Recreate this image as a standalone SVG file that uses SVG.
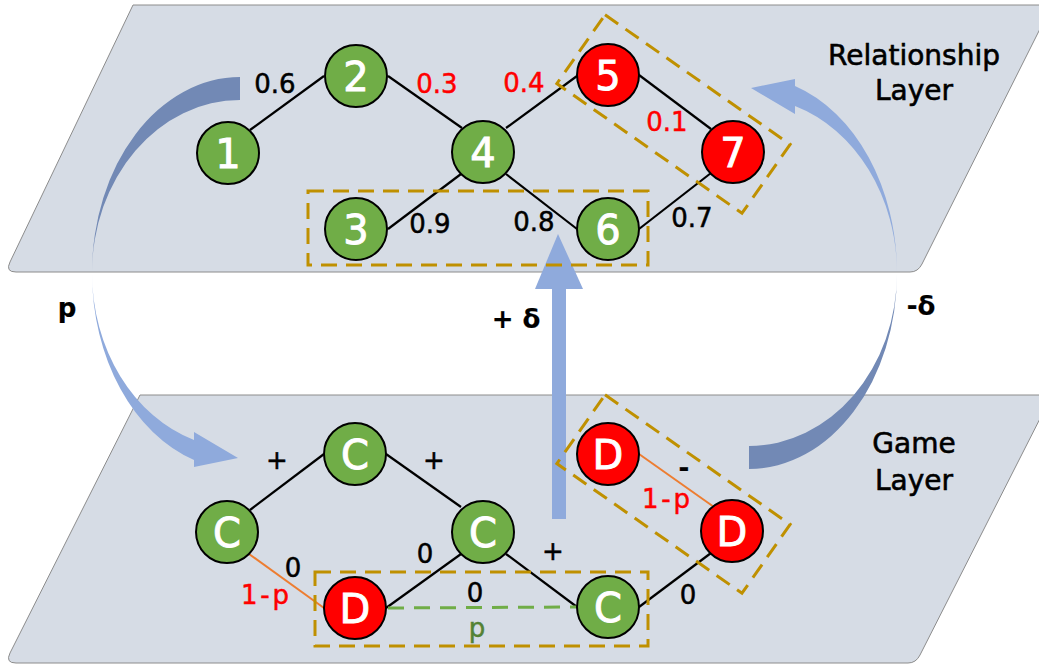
<svg xmlns="http://www.w3.org/2000/svg" width="1039" height="668" viewBox="0 0 1039 668">
<style>
.plane{fill:#D6DCE5;stroke:#8C8C8C;stroke-width:1}
.edge{stroke:#000;stroke-width:2.2;fill:none}
.orange{stroke:#ED7D31;stroke-width:2;fill:none}
.gdash{stroke:#70AD47;stroke-width:3;stroke-dasharray:16 10;fill:none}
.box{stroke:#BF9000;stroke-width:3;stroke-dasharray:16 9;fill:none}
.g{fill:#70AD47;stroke:#000;stroke-width:2}
.r{fill:#FF0000;stroke:#000;stroke-width:2}
.nt{font-family:"DejaVu Sans",sans-serif;font-size:40px;fill:#fff;stroke:#fff;stroke-width:0.9;text-anchor:middle}
.lb{font-family:"DejaVu Sans",sans-serif;font-size:26px;fill:#000;stroke:#000;stroke-width:0.5;text-anchor:middle}
.red{fill:#FF0000;stroke:#FF0000}
.grn{fill:#548235;stroke:#548235}
.bold{font-weight:bold;stroke-width:0.2}
.ttl{font-family:"DejaVu Sans",sans-serif;font-size:28px;fill:#000;text-anchor:middle;stroke:#000;stroke-width:0.6}
.dark{fill:#7289B5}
.light{fill:#8FAADC}
</style>
<g id="planes">
<path class="plane" d="M133,5 L1052,5 L922,264 Q918,272 910,272 L16,272 Q5,272 10,262 Z"/>
<path class="plane" d="M140,395 L1052,395 L920,655 Q916,663 908,663 L16,663 Q5,663 10,653 Z"/>
</g>
<g id="arrows">
<g id="arrow-p">
<path class="dark" d="M240,77 A148,196 0 0 0 92,273 A148,173 0 0 1 240,100 Z"/>
<path class="light" d="M92,273 A148,197 0 0 0 194,460 L194,467 L238,458 L194,432 L194,440 A148,176 0 0 1 92,273 Z"/>
</g>
<g id="arrow-minus-delta" transform="rotate(180 494.5 273)">
<path class="dark" d="M240,77 A148,196 0 0 0 92,273 A148,173 0 0 1 240,100 Z"/>
<path class="light" d="M92,273 A148,197 0 0 0 194,460 L194,467 L238,458 L194,432 L194,440 A148,176 0 0 1 92,273 Z"/>
</g>
<g id="arrow-plus-delta">
<rect class="light" x="552" y="288" width="14" height="231"/>
<polygon class="light" points="535,289 583,289 558,234"/>
</g>
</g>
<g id="connectors">
<line class="edge" x1="250" y1="130" x2="324" y2="76"/>
<line class="edge" x1="388" y1="76" x2="462" y2="128"/>
<line class="edge" x1="506" y1="128" x2="577" y2="76"/>
<line class="edge" x1="639" y1="75" x2="711" y2="129"/>
<line class="edge" x1="388" y1="229" x2="461" y2="174"/>
<line class="edge" x1="506" y1="174" x2="577" y2="229"/>
<line class="edge" x1="639" y1="229" x2="711" y2="173"/>
<line class="edge" x1="250" y1="510" x2="324" y2="454"/>
<line class="edge" x1="386" y1="454" x2="461" y2="507"/>
<line class="edge" x1="386" y1="608" x2="461" y2="554"/>
<line class="edge" x1="506" y1="554" x2="577" y2="607"/>
<line class="edge" x1="639" y1="607" x2="711" y2="553"/>
<line class="orange" x1="249" y1="554" x2="324" y2="608"/>
<line class="orange" x1="639" y1="454" x2="714" y2="507"/>
<line class="gdash" x1="388" y1="608" x2="577" y2="607"/>
</g>
<g id="groups">
<rect class="box" x="308" y="191" width="340" height="74"/>
<rect class="box" x="-113" y="-42" width="226" height="84" transform="translate(673.5 114) rotate(35)"/>
<rect class="box" x="315" y="572" width="333" height="74"/>
<rect class="box" x="-113" y="-42" width="226" height="84" transform="translate(673.5 494) rotate(35)"/>
</g>
<g id="n1"><circle class="g" cx="228" cy="153" r="31"/><text class="nt" x="228" y="168">1</text></g>
<g id="n2"><circle class="g" cx="356" cy="76" r="31"/><text class="nt" x="356" y="91">2</text></g>
<g id="n3"><circle class="g" cx="356" cy="229" r="31"/><text class="nt" x="356" y="244">3</text></g>
<g id="n4"><circle class="g" cx="483" cy="152" r="31"/><text class="nt" x="483" y="167">4</text></g>
<g id="n5"><circle class="r" cx="608" cy="75" r="31"/><text class="nt" x="608" y="90">5</text></g>
<g id="n6"><circle class="g" cx="608" cy="229" r="31"/><text class="nt" x="608" y="244">6</text></g>
<g id="n7"><circle class="r" cx="733" cy="152" r="31"/><text class="nt" x="733" y="167">7</text></g>
<g id="g1"><circle class="g" cx="227" cy="532" r="31"/><text class="nt" x="227" y="547">C</text></g>
<g id="g2"><circle class="g" cx="355" cy="454" r="31"/><text class="nt" x="355" y="469">C</text></g>
<g id="g3"><circle class="g" cx="483" cy="532" r="31"/><text class="nt" x="483" y="547">C</text></g>
<g id="g4"><circle class="r" cx="355" cy="608" r="31"/><text class="nt" x="355" y="623">D</text></g>
<g id="g5"><circle class="r" cx="608" cy="454" r="31"/><text class="nt" x="608" y="469">D</text></g>
<g id="g6"><circle class="g" cx="608" cy="607" r="31"/><text class="nt" x="608" y="622">C</text></g>
<g id="g7"><circle class="r" cx="732" cy="531" r="31"/><text class="nt" x="732" y="546">D</text></g>
<g id="labels">
<text class="lb" x="275" y="93">0.6</text>
<text class="lb red" x="437" y="93">0.3</text>
<text class="lb red" x="524" y="92">0.4</text>
<text class="lb red" x="667" y="131">0.1</text>
<text class="lb" x="430" y="233">0.9</text>
<text class="lb" x="534" y="231">0.8</text>
<text class="lb" x="692" y="227">0.7</text>
<text class="lb" x="277" y="469">+</text>
<text class="lb" x="434" y="469">+</text>
<text class="lb" x="293" y="577">0</text>
<text class="lb red" x="265" y="604" textLength="48">1-p</text>
<text class="lb" x="425" y="563">0</text>
<text class="lb" x="475" y="602">0</text>
<text class="lb grn" x="477" y="637">p</text>
<text class="lb" x="553" y="560">+</text>
<text class="lb bold" x="684" y="477">-</text>
<text class="lb red" x="666" y="508" textLength="48">1-p</text>
<text class="lb" x="688" y="604">0</text>
<text class="lb bold" x="67" y="317">p</text>
<text class="lb bold" x="516" y="328">+ δ</text>
<text class="lb bold" x="921" y="315">-δ</text>
<text class="ttl" x="914" y="65">Relationship</text>
<text class="ttl" x="914" y="100">Layer</text>
<text class="ttl" x="914" y="453">Game</text>
<text class="ttl" x="914" y="490">Layer</text>
</g>
</svg>
